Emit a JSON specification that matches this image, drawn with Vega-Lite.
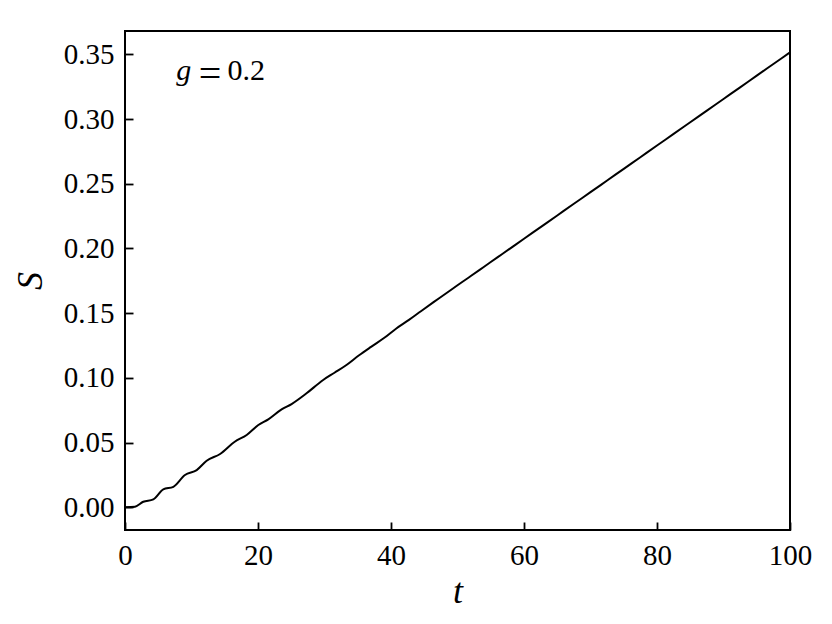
{
  "$schema": "https://vega.github.io/schema/vega-lite/v6.json",
  "autosize": {"type": "none"},
  "padding": {"left": 125, "top": 31, "right": 42, "bottom": 94},
  "width": 665,
  "height": 499,
  "background": "white",
  "config": {
    "view": {"stroke": "black", "strokeWidth": 2},
    "font": "Liberation Serif",
    "axis": {
      "domain": false,
      "grid": false,
      "tickColor": "black",
      "tickWidth": 1.8,
      "labelFont": "Liberation Serif",
      "labelFontSize": 29,
      "labelColor": "black",
      "titleFont": "Liberation Serif",
      "titleFontSize": 36,
      "titleFontStyle": "italic",
      "titleFontWeight": "normal",
      "titleColor": "black"
    }
  },
  "data": {
    "values": [
      {"t": 0, "S": 0},
      {"t": 1.5, "S": 0.0005},
      {"t": 2.75, "S": 0.0043},
      {"t": 4.26, "S": 0.0062},
      {"t": 5.76, "S": 0.0139},
      {"t": 7.27, "S": 0.0159},
      {"t": 9.02, "S": 0.025},
      {"t": 10.78, "S": 0.0288},
      {"t": 12.28, "S": 0.036},
      {"t": 14.3, "S": 0.0412},
      {"t": 16.5, "S": 0.0507},
      {"t": 18.3, "S": 0.0559},
      {"t": 20.05, "S": 0.0636},
      {"t": 21.55, "S": 0.068},
      {"t": 23.55, "S": 0.0757},
      {"t": 25.05, "S": 0.0798},
      {"t": 27.3, "S": 0.0881},
      {"t": 29.8, "S": 0.0984},
      {"t": 31.5, "S": 0.104},
      {"t": 33.3, "S": 0.11},
      {"t": 35.2, "S": 0.1175},
      {"t": 37.0, "S": 0.124},
      {"t": 39.0, "S": 0.131},
      {"t": 40.8, "S": 0.1382},
      {"t": 42.7, "S": 0.1448},
      {"t": 44.5, "S": 0.1515},
      {"t": 46.4, "S": 0.1585},
      {"t": 48.2, "S": 0.165},
      {"t": 50.0, "S": 0.1716},
      {"t": 52, "S": 0.1787},
      {"t": 54, "S": 0.1859},
      {"t": 56, "S": 0.1931},
      {"t": 58, "S": 0.2003},
      {"t": 60, "S": 0.2075},
      {"t": 62.5, "S": 0.2165},
      {"t": 65, "S": 0.2255},
      {"t": 67.5, "S": 0.2345},
      {"t": 70, "S": 0.2435},
      {"t": 72.5, "S": 0.2525},
      {"t": 75, "S": 0.2615},
      {"t": 77.5, "S": 0.2705},
      {"t": 80, "S": 0.2795},
      {"t": 82.5, "S": 0.2885},
      {"t": 85, "S": 0.2975},
      {"t": 87.5, "S": 0.3065},
      {"t": 90, "S": 0.3155},
      {"t": 92.5, "S": 0.3245},
      {"t": 95, "S": 0.3335},
      {"t": 97.5, "S": 0.3425},
      {"t": 100, "S": 0.3515}
    ]
  },
  "resolve": {"axis": {"x": "independent", "y": "independent"}},
  "layer": [
    {
      "mark": {"type": "line", "color": "black", "strokeWidth": 2, "interpolate": "monotone"},
      "encoding": {
        "x": {
          "field": "t", "type": "quantitative",
          "scale": {"domain": [0, 100], "nice": false, "zero": false},
          "axis": {"orient": "bottom", "values": [0, 20, 40, 60, 80, 100], "title": "t", "ticks": false, "labelPadding": 11, "titlePadding": 4, "labelFlush": false}
        },
        "y": {
          "field": "S", "type": "quantitative",
          "scale": {"domain": [-0.0175, 0.368], "nice": false, "zero": false},
          "axis": {"orient": "left", "values": [0, 0.05, 0.1, 0.15, 0.2, 0.25, 0.3, 0.35], "format": ".2f", "title": "S", "ticks": false, "labelPadding": 11, "titlePadding": 14, "labelFlush": false}
        }
      }
    },
    {
      "mark": {"type": "line", "strokeOpacity": 0},
      "encoding": {
        "x": {
          "field": "t", "type": "quantitative",
          "axis": {"orient": "bottom", "values": [0, 20, 40, 60, 80, 100], "title": null, "labels": false, "ticks": true, "tickSize": 8, "offset": -8}
        },
        "y": {
          "field": "S", "type": "quantitative",
          "axis": {"orient": "left", "values": [0, 0.05, 0.1, 0.15, 0.2, 0.25, 0.3, 0.35], "title": null, "labels": false, "ticks": true, "tickSize": 8, "offset": -8}
        }
      }
    },
    {
      "data": {"values": [{}]},
      "mark": {"type": "text", "text": "g", "fontStyle": "italic", "fontSize": 30, "font": "Liberation Serif", "align": "left", "baseline": "alphabetic", "color": "black"},
      "encoding": {"x": {"datum": 7.7, "axis": null}, "y": {"datum": 0.3305, "axis": null}}
    },
    {
      "data": {"values": [{}]},
      "mark": {"type": "text", "text": "=", "fontSize": 40, "font": "Liberation Serif", "align": "center", "baseline": "alphabetic", "dy": 7, "color": "black"},
      "encoding": {"x": {"datum": 12.8, "axis": null}, "y": {"datum": 0.3305, "axis": null}}
    },
    {
      "data": {"values": [{}]},
      "mark": {"type": "text", "text": "0.2", "fontSize": 30, "font": "Liberation Serif", "align": "left", "baseline": "alphabetic", "color": "black"},
      "encoding": {"x": {"datum": 15.4, "axis": null}, "y": {"datum": 0.3305, "axis": null}}
    }
  ]
}
